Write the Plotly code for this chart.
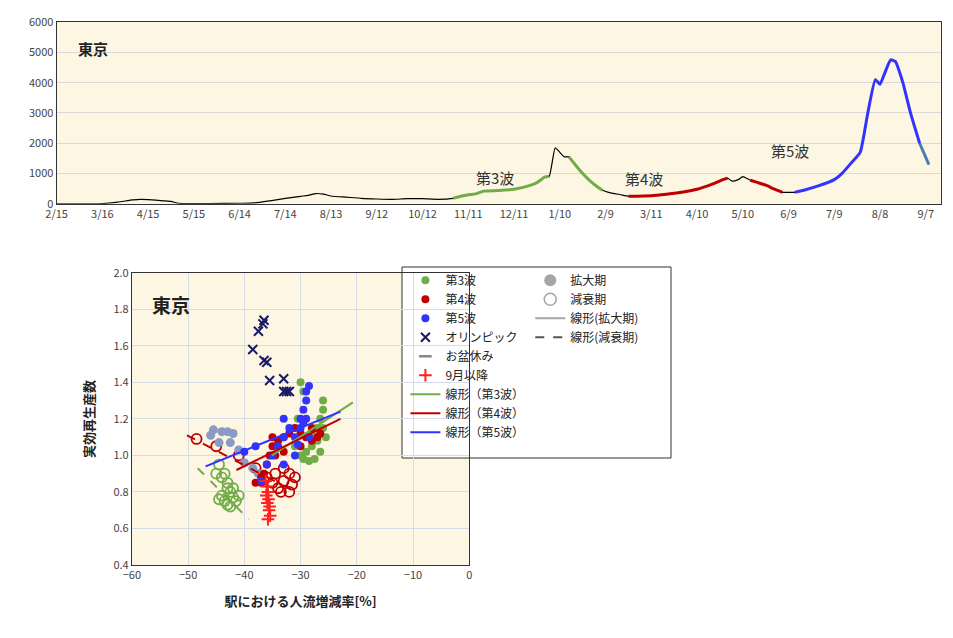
import plotly.graph_objects as go

# ---- top chart data (day index from 2020-02-15) ----
DAYS = [0,25,30,40,50,55,60,70,75,80,90,100,120,130,140,150,160,165,170,175,180,190,200,210,220,230,240,250,260,265,270,275,280,290,300,310,315,320,323,327,330,333,336,340,345,350,355,358,362,370,375,380,390,400,410,420,430,437,440,443,447,450,455,460,466,470,476,480,484,490,500,510,515,522,527,532,537,540,543,547,550,555,560,566,572]
CASES = [0,0,10,60,130,150,140,100,80,20,10,10,20,30,100,180,250,280,340,320,260,220,180,160,150,170,170,150,180,250,300,330,420,440,480,600,700,880,900,1850,1700,1550,1550,1300,1000,750,550,450,380,300,250,250,270,320,380,480,650,800,850,750,800,900,780,700,600,500,380,380,380,450,600,800,1000,1400,1700,3000,4100,3950,4300,4750,4700,4000,3000,2000,1300]
TICK_DAYS = list(range(0, 571, 30))
TICK_LABELS = ["2/15","3/16","4/15","5/15","6/14","7/14","8/13","9/12","10/12","11/11","12/11","1/10","2/9","3/11","4/10","5/10","6/9","7/9","8/8","9/7"]
SEGMENTS = [((260, 323), "#70ad47"), ((336, 358), "#70ad47"), ((375, 440), "#c00000"),
            ((455, 476), "#c00000"), ((484, 566), "#3333ff"), ((566, 572), "#4a7fb0")]

# ---- scatter data: (x = 人流増減率, y = 実効再生産数) ----
G_EXP_X = [-30,-29.5,-29,-28.5,-28,-29,-28,-27,-26.5,-26,-26,-27,-26.5,-25.5,-30.5,-30,-29.5,-27.5,-31,-26]
G_EXP_Y = [1.0,0.98,1.02,0.97,1.05,1.1,1.12,1.15,1.2,1.25,1.3,1.08,1.02,1.1,1.2,1.4,1.35,0.98,1.05,1.15]
G_DEC_X = [-44.5,-45,-44,-43.5,-43,-44,-43.5,-43,-42.5,-42,-41.5,-41,-42.5,-43,-44.5,-42]
G_DEC_Y = [0.95,0.9,0.88,0.9,0.85,0.78,0.75,0.73,0.8,0.77,0.75,0.78,0.72,0.82,0.76,0.82]
R_EXP_X = [-38,-37,-36.5,-36,-35.5,-35,-34.5,-34,-33,-32,-31,-30,-29,-28,-27,-26.5,-28,-30,-33,-35,-37]
R_EXP_Y = [0.85,0.88,0.9,0.95,1.0,1.05,1.0,1.08,1.1,1.12,1.15,1.12,1.1,1.08,1.1,1.12,1.15,1.05,1.02,1.1,0.85]
R_DEC_X = [-48.5,-45,-41,-38,-36,-35,-34,-33,-32,-31.5,-33.5,-32,-31,-34.5,-33]
R_DEC_Y = [1.09,1.05,1.0,0.93,0.88,0.85,0.82,0.86,0.9,0.84,0.8,0.8,0.88,0.9,0.93]
B_EXP_X = [-37,-36,-35,-34,-33,-33,-32,-31,-30,-30,-29.5,-29,-29,-28.5,-29.5,-28.5,-31,-33,-38,-40,-30.5,-29]
B_EXP_Y = [0.86,0.95,1.0,1.05,1.1,1.2,1.15,1.1,1.15,1.2,1.25,1.3,1.35,1.38,1.18,1.1,1.0,0.95,1.05,1.02,1.06,1.2]
OLY_X = [-36.5,-36.7,-37.5,-38.5,-36.5,-36,-35.5,-33,-33,-32.5,-32]
OLY_Y = [1.74,1.72,1.68,1.58,1.52,1.51,1.41,1.42,1.35,1.35,1.35]
OBON_X = [-45.5,-44,-43,-42,-46,-44.5,-42.5,-41,-40,-38.5,-37.5]
OBON_Y = [1.14,1.13,1.13,1.12,1.11,1.07,1.07,1.03,0.96,0.93,0.9]
SEP_X = [-36.2,-36,-35.8,-36.1,-35.7,-35.9,-35.5,-35.6,-35.4,-35.8]
SEP_Y = [0.86,0.83,0.8,0.78,0.76,0.74,0.72,0.7,0.67,0.65]
FIT_G = ([-35.1,-20.7],[1.0,1.29])
FIT_R = ([-41.4,-22.9],[0.92,1.2])
FIT_B = ([-46.9,-22.9],[0.94,1.24])
FIT_G_DEC = ([-48.3,-39.2],[0.93,0.65])
FIT_R_DEC = ([-50.2,-30.3],[1.11,0.79])

BG = "#fdf6e3"
fig = go.Figure()
fig.add_trace(go.Scatter(x=DAYS, y=CASES, mode="lines", line=dict(color="black", width=1.2, shape="spline", smoothing=0.5),
                         showlegend=False, xaxis="x", yaxis="y"))
for (a, b), c in SEGMENTS:
    xs = [d for d in DAYS if a <= d <= b]
    ys = [v for d, v in zip(DAYS, CASES) if a <= d <= b]
    fig.add_trace(go.Scatter(x=xs, y=ys, mode="lines", line=dict(color=c, width=3, shape="spline", smoothing=0.5),
                             showlegend=False, xaxis="x", yaxis="y"))

def sc(x, y, name, marker, leg="legend", show=True):
    fig.add_trace(go.Scatter(x=x, y=y, mode="markers", name=name, marker=marker, xaxis="x2", yaxis="y2",
                             legend=leg, showlegend=show))

def ln(xy, name, color, dash="solid", show=True, leg="legend"):
    fig.add_trace(go.Scatter(x=xy[0], y=xy[1], mode="lines", name=name, line=dict(color=color, width=2, dash=dash),
                             xaxis="x2", yaxis="y2", legend=leg, showlegend=show))

open_m = lambda c: dict(symbol="circle-open", size=10, color=c, line=dict(width=1.8, color=c))
sc(G_DEC_X, G_DEC_Y, "g_dec", open_m("#70ad47"), show=False)
sc(R_DEC_X, R_DEC_Y, "r_dec", open_m("#c00000"), show=False)
sc(OBON_X, OBON_Y, "お盆休み", dict(symbol="circle", size=9, color="#8a9bc4"), show=False)
ln(FIT_G_DEC, "gd", "#70ad47", "dash", show=False)
ln(FIT_R_DEC, "rd", "#c00000", "dash", show=False)
sc(G_EXP_X, G_EXP_Y, "第3波", dict(symbol="circle", size=8, color="#70ad47"))
sc(R_EXP_X, R_EXP_Y, "第4波", dict(symbol="circle", size=8, color="#c00000"))
sc(B_EXP_X, B_EXP_Y, "第5波", dict(symbol="circle", size=8, color="#3333ff"))
sc(OLY_X, OLY_Y, "オリンピック", dict(symbol="x-thin", size=9, color="#1a1a66", line=dict(width=2, color="#1a1a66")))
sc([None], [None], "お盆休み", dict(symbol="line-ew", size=9, color="#888", line=dict(width=2.5, color="#888")))
sc(SEP_X, SEP_Y, "9月以降", dict(symbol="cross-thin", size=9, color="#ff2020", line=dict(width=2, color="#ff2020")))
ln(FIT_G, "線形（第3波）", "#70ad47")
ln(FIT_R, "線形（第4波）", "#c00000")
ln(FIT_B, "線形（第5波）", "#3333ff")
# right legend column
sc([None], [None], "拡大期", dict(symbol="circle", size=12, color="#a6a6a6"), leg="legend2")
sc([None], [None], "減衰期", dict(symbol="circle-open", size=12, color="#a6a6a6", line=dict(width=1.5, color="#a6a6a6")), leg="legend2")
ln(([None], [None]), "線形(拡大期)", "#a6a6a6", leg="legend2")
ln(([None], [None]), "線形(減衰期)", "#555555", "dash", leg="legend2")

ax_common = dict(showline=True, linecolor="#333", mirror=True, ticks="", automargin=False,
                 tickfont=dict(size=11, color="#444"))
fig.update_layout(
    width=953, height=638, margin=dict(l=0, r=0, t=0, b=0, autoexpand=False), paper_bgcolor="white", plot_bgcolor=BG,
    font=dict(family="Noto Sans CJK JP", color="#222"),
    xaxis=dict(domain=[0.051, 0.979], anchor="y", range=[0, 580], tickvals=TICK_DAYS, ticktext=TICK_LABELS,
               showgrid=False, **ax_common),
    yaxis=dict(domain=[0.693, 0.978], anchor="x", range=[0, 6000], dtick=1000, gridcolor="#d9d9d9", **ax_common),
    xaxis2=dict(domain=[0.130, 0.484], anchor="y2", range=[-60, 0], dtick=10, gridcolor="#d6dbe6", zeroline=False,
                title=dict(text="<b>駅における人流増減率[%]</b>", font=dict(size=13)), **ax_common),
    yaxis2=dict(domain=[0.127, 0.585], anchor="x2", range=[0.4, 2.0], dtick=0.2, tickformat=".1f", gridcolor="#d6dbe6",
                zeroline=False, title=dict(text="<b>実効再生産数</b>", font=dict(size=13)), **ax_common),
    legend=dict(x=0.417, y=0.596, xanchor="left", yanchor="top", bgcolor="rgba(0,0,0,0)", font=dict(size=12),
                tracegroupgap=0, itemwidth=30),
    legend2=dict(x=0.548, y=0.596, xanchor="left", yanchor="top", bgcolor="rgba(0,0,0,0)", font=dict(size=12),
                 itemwidth=30),
    shapes=[dict(type="rect", xref="paper", yref="paper", x0=394/953, x1=663/953, y0=1-450/638, y1=1-259/638,
                 line=dict(color="#333", width=1), fillcolor="white", layer="below")],
    annotations=[
        dict(text="<b>東京</b>", x=68/953, y=1-28/638, xref="paper", yref="paper", showarrow=False, xanchor="left", font=dict(size=15)),
        dict(text="第3波", x=487/953, y=1-157/638, xref="paper", yref="paper", showarrow=False, font=dict(size=15, color="#333")),
        dict(text="第4波", x=657/953, y=1-158/638, xref="paper", yref="paper", showarrow=False, font=dict(size=15, color="#333")),
        dict(text="第5波", x=803/953, y=1-130/638, xref="paper", yref="paper", showarrow=False, font=dict(size=15, color="#333")),
        dict(text="<b>東京</b>", x=142/953, y=1-297/638, xref="paper", yref="paper", showarrow=False, xanchor="left", font=dict(size=19)),
    ],
)
fig.write_html("out.html")
